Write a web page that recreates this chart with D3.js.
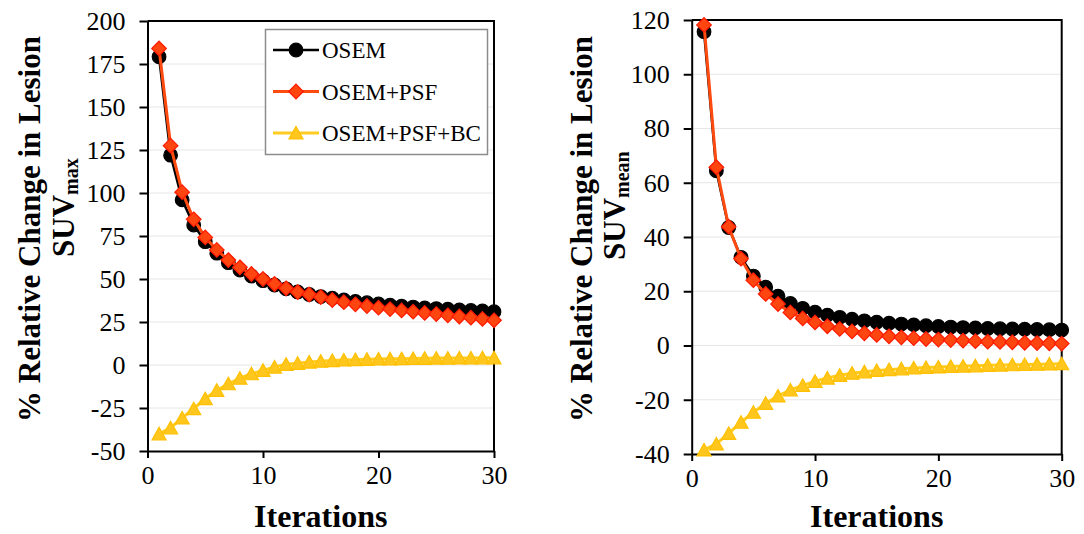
<!DOCTYPE html>
<meta charset="utf-8">
<style>
  body { margin: 0; background: #fff; }
  text { font-family: "Liberation Serif", "Times New Roman", serif; fill: #000; }
  .axis path, .axis line { stroke: #000; stroke-width: 2; }
  .grid line { stroke: #e6e6e6; stroke-width: 1; }
</style>
<body>
<svg width="1084" height="534"></svg>
<script src="https://cdnjs.cloudflare.com/ajax/libs/d3/7.8.5/d3.min.js"></script>
<script>

var iterations = [1, 2, 3, 4, 5, 6, 7, 8, 9, 10, 11, 12, 13, 14, 15,
                  16, 17, 18, 19, 20, 21, 22, 23, 24, 25, 26, 27, 28, 29, 30];
var seriesNames = ["OSEM", "OSEM+PSF", "OSEM+PSF+BC"];

// SUVmax (left)
var maxOsem = [179.2, 122, 96, 81.4, 71.7, 65, 59.5, 55.2, 51.7, 49, 46.5, 44.3, 42.5, 41, 39.8,
               38.8, 37.8, 37, 36.2, 35.5, 34.8, 34.2, 33.7, 33.2, 32.8, 32.4, 32, 31.7, 31.4, 31];
var maxPsf = [184, 127.5, 100.5, 84.7, 74.2, 66.9, 61, 56.8, 52.9, 50, 47.1, 44.6, 42.4, 41, 39.5,
              37.8, 36.5, 35.3, 34.3, 33.3, 32.5, 31.7, 31, 30.3, 29.6, 28.9, 28.2, 27.5, 26.8, 26];
var maxBc = [-40, -36.5, -30.8, -25.4, -19.6, -14.7, -10.9, -7.7, -5.1, -3.1, -1.2, 0.4, 1, 1.7, 2.2,
             2.6, 2.9, 3.1, 3.3, 3.5, 3.6, 3.7, 3.8, 3.9, 4.0, 4.0, 4.1, 4.1, 4.2, 4.2];

// SUVmean (right)
var meanOsem = [115.7, 64.4, 43.5, 32.5, 25.6, 21.5, 18.2, 15.5, 13.7, 12.3, 11.2, 10.4, 9.7, 9.1, 8.6,
                8.2, 7.9, 7.6, 7.3, 7.0, 6.8, 6.6, 6.5, 6.3, 6.2, 6.1, 6.0, 5.9, 5.8, 5.7];
var meanPsf = [118.2, 65.7, 43.8, 32, 24.1, 19, 15.3, 12.2, 10, 8.5, 7.1, 6.1, 5.2, 4.5, 3.9,
               3.4, 3.0, 2.7, 2.4, 2.2, 2.0, 1.8, 1.6, 1.4, 1.3, 1.2, 1.0, 0.9, 0.8, 0.7];
var meanBc = [-38.5, -36.3, -32.4, -28.3, -24.6, -21.3, -18.6, -16.4, -14.7, -13.2, -12, -11, -10.2, -9.7, -9.2,
              -8.9, -8.6, -8.3, -8.1, -7.9, -7.7, -7.6, -7.5, -7.3, -7.2, -7.1, -7.0, -6.9, -6.8, -6.7];

var xTicks = [0, 10, 20, 30];
var maxTicks = [-50, -25, 0, 25, 50, 75, 100, 125, 150, 175, 200];
var meanTicks = [-40, -20, 0, 20, 40, 60, 80, 100, 120];

var svg = d3.select("svg");

var styles = [
  {line: "#000000", fill: "#000000", stroke: "#000000", shape: "circle", width: 2.5},
  {line: "#ff4a10", fill: "#ff4510", stroke: "#ff1a00", shape: "diamond", width: 3},
  {line: "#ffcc22", fill: "#ffc61e", stroke: "#ffc000", shape: "triangle", width: 3}
];

// plain hyphen for negatives, like the original
var fmt = function(d) { return String(d); };

function marker(sel, st) {
  if (st.shape == "circle") {
    sel.append("circle").attr("r", 6.8);
  } else if (st.shape == "diamond") {
    sel.append("path").attr("d", "M0,-7.3L7.3,0L0,7.3L-7.3,0Z");
  } else {
    sel.append("path").attr("d", "M0,-6.5L7,6L-7,6Z");
  }
  sel.selectAll("circle,path")
    .style("fill", st.fill)
    .style("stroke", st.stroke)
    .style("stroke-width", 1.2);
}

function drawChart(opt) {
  var g = svg.append("g");
  var x = d3.scaleLinear().domain([0, 30]).range([opt.left, opt.right]);
  var y = d3.scaleLinear().domain(opt.domain).range([opt.bottom, opt.top]);

  g.append("g").attr("class", "grid")
    .selectAll("line").data(opt.ticks.slice(1)).enter().append("line")
    .attr("x1", opt.left).attr("x2", opt.right)
    .attr("y1", function(d) { return y(d); })
    .attr("y2", function(d) { return y(d); });

  // frame top / right
  g.append("path")
    .attr("d", "M" + opt.left + "," + opt.top + "H" + opt.right + "V" + opt.bottom)
    .attr("fill", "none").attr("stroke", "#000").attr("stroke-width", 2);

  g.append("g").attr("class", "axis")
    .attr("transform", "translate(" + opt.left + ",0)")
    .attr("font-family", "Liberation Serif")
    .call(d3.axisLeft(y).tickValues(opt.ticks).tickFormat(fmt).tickSize(8).tickPadding(14).tickSizeOuter(0))
    .selectAll("text").style("font-size", "26px").style("font-family", "Liberation Serif");

  g.append("g").attr("class", "axis")
    .attr("transform", "translate(0," + opt.bottom + ")")
    .attr("font-family", "Liberation Serif")
    .call(d3.axisBottom(x).tickValues(xTicks).tickFormat(fmt).tickSize(7).tickPadding(8).tickSizeOuter(0))
    .selectAll("text").style("font-size", "26px").style("font-family", "Liberation Serif");

  g.selectAll(".axis text").attr("fill", "#000");

  var line = d3.line()
    .x(function(d, i) { return x(iterations[i]); })
    .y(function(d) { return y(d); });

  opt.series.forEach(function(vals, k) {
    var st = styles[k];
    g.append("path")
      .attr("d", line(vals))
      .attr("fill", "none")
      .attr("stroke", st.line)
      .attr("stroke-width", st.width)
      .attr("stroke-linejoin", "round");
    g.selectAll(".m" + k).data(vals).enter().append("g")
      .attr("class", "m" + k)
      .attr("transform", function(d, i) { return "translate(" + x(iterations[i]) + "," + y(d) + ")"; })
      .each(function() { marker(d3.select(this), st); });
  });

  // x title
  g.append("text")
    .attr("x", (opt.left + opt.right) / 2)
    .attr("y", 527)
    .attr("text-anchor", "middle")
    .style("font-size", "32px")
    .style("font-weight", "bold")
    .text("Iterations");

  // y title, two lines
  g.append("text")
    .attr("transform", "translate(" + opt.titleX + ",229) rotate(-90)")
    .attr("text-anchor", "middle")
    .style("font-size", "31px")
    .style("font-weight", "bold")
    .text("% Relative Change in Lesion");

  var t2 = g.append("text")
    .attr("transform", "translate(" + opt.subX + "," + opt.subY + ") rotate(-90)")
    .style("font-size", "31px")
    .style("font-weight", "bold");
  t2.append("tspan").text("SUV");
  t2.append("tspan").attr("dy", 4).style("font-size", "20px").text(opt.sub);

  return g;
}

var left = drawChart({
  left: 147.5, right: 494, top: 21, bottom: 451,
  domain: [-50, 200], ticks: maxTicks,
  series: [maxOsem, maxPsf, maxBc],
  titleX: 40, subX: 74, subY: 257, sub: "max"
});

drawChart({
  left: 691.7, right: 1061.7, top: 20, bottom: 454,
  domain: [-40, 120], ticks: meanTicks,
  series: [meanOsem, meanPsf, meanBc],
  titleX: 592, subX: 625, subY: 260, sub: "mean"
});

// legend in left chart
var legend = left.append("g");
legend.append("rect")
  .attr("x", 265.5).attr("y", 29.5).attr("width", 222).attr("height", 125)
  .attr("fill", "#fff").attr("stroke", "#8c8c8c").attr("stroke-width", 1.5);

seriesNames.forEach(function(name, k) {
  var st = styles[k];
  var cy = 50 + k * 41.5;
  legend.append("line")
    .attr("x1", 273).attr("x2", 319).attr("y1", cy).attr("y2", cy)
    .attr("stroke", st.line).attr("stroke-width", st.width);
  var mg = legend.append("g").attr("transform", "translate(296," + cy + ")");
  marker(mg, st);
  legend.append("text")
    .attr("x", 322).attr("y", cy + 8)
    .style("font-size", "23px")
    .text(name);
});

</script>
</body>
